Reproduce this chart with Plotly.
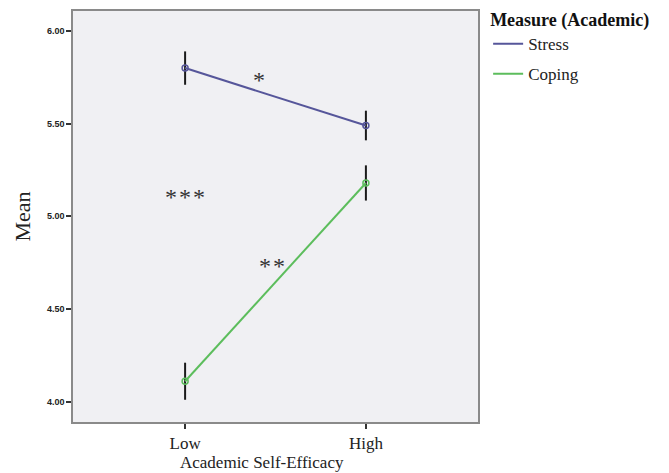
import plotly.graph_objects as go

categories = ["Low", "High"]
stress_mean = [5.80, 5.49]
stress_err = [0.09, 0.08]
coping_mean = [4.11, 5.18]
coping_err = [0.10, 0.095]
y_ticks = [4.0, 4.5, 5.0, 5.5, 6.0]
y_tick_labels = ["4.00", "4.50", "5.00", "5.50", "6.00"]
stars = [("*", 0.41, 5.735), ("*\u200a*\u200a*", 0.0, 5.105), ("*\u200a*", 0.48, 4.73)]

x_idx = list(range(len(categories)))
serif = "Liberation Serif, Times New Roman, serif"
stress_col = "#56569a"
coping_col = "#5cbd5c"

fig = go.Figure()
fig.add_trace(go.Scatter(
    x=x_idx, y=stress_mean, name="Stress", mode="lines+markers",
    line=dict(color=stress_col, width=2),
    marker=dict(symbol="circle-open", size=6, color=stress_col, line=dict(width=1.5)),
    error_y=dict(type="data", array=stress_err, color="#1a1a1a", thickness=2, width=0),
    showlegend=False,
))
fig.add_trace(go.Scatter(
    x=x_idx, y=coping_mean, name="Coping", mode="lines+markers",
    line=dict(color=coping_col, width=2),
    marker=dict(symbol="circle-open", size=6, color=coping_col, line=dict(width=1.5)),
    error_y=dict(type="data", array=coping_err, color="#1a1a1a", thickness=2, width=0),
    showlegend=False,
))
# legend entries (line only)
fig.add_trace(go.Scatter(x=[None], y=[None], name="Stress", mode="lines",
                         line=dict(color=stress_col, width=2), legendgroup="a"))
fig.add_trace(go.Scatter(x=[None], y=[None], name="Coping", mode="lines",
                         line=dict(color=coping_col, width=2), legendgroup="b"))

for txt, x, y in stars:
    fig.add_annotation(x=x, y=y, text=txt, showarrow=False,
                       font=dict(family=serif, size=24, color="#333333"))

fig.add_annotation(xref="paper", yref="paper", x=0.467, y=-0.098, yanchor="middle",
                   text="Academic Self-Efficacy", showarrow=False,
                   font=dict(family=serif, size=17, color="#222"))

fig.update_layout(
    width=669, height=473,
    margin=dict(l=73, r=191, t=11, b=51, autoexpand=False),
    paper_bgcolor="white",
    plot_bgcolor="#f0f0f3",
    showlegend=True,
    legend=dict(
        x=1.025, y=1.02, xanchor="left", yanchor="top",
        title=dict(text="<b>Measure (Academic)</b>", font=dict(family=serif, size=18, color="#111")),
        font=dict(family=serif, size=17, color="#222"),
        tracegroupgap=5, traceorder="grouped",
        bgcolor="rgba(0,0,0,0)",
    ),
    xaxis=dict(
        range=[-0.62, 1.62], tickvals=x_idx, ticktext=categories,
        showgrid=False, zeroline=False,
        showline=True, mirror=True, linecolor="#8a8a8a", linewidth=1.5,
        ticks="outside", ticklen=5, tickcolor="#333", tickwidth=2,
        tickfont=dict(family=serif, size=17, color="#222"),
    ),
    yaxis=dict(
        range=[3.89, 6.108], tickvals=y_ticks, ticktext=y_tick_labels,
        showgrid=False, zeroline=False,
        showline=True, mirror=True, linecolor="#8a8a8a", linewidth=1.5,
        ticks="outside", ticklen=5, tickcolor="#333", tickwidth=2,
        tickfont=dict(family="Liberation Sans, Arial, sans-serif", size=9, color="#222", weight="bold"),
        title=dict(text="Mean", font=dict(family=serif, size=22, color="#222"), standoff=10),
    ),
)

fig.write_html("out.html")
